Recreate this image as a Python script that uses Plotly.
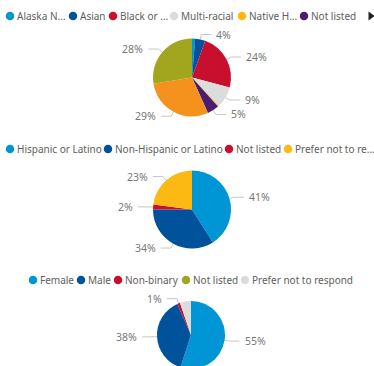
import math
import plotly.graph_objects as go

# Canvas size (the last pie runs past the bottom edge and is cut off)
W, H = 374, 372

# ---- Race ----
race_labels = ["Alaska Native or American Indian", "Asian", "Black or African American",
               "Multi-racial", "Native Hawaiian or Pacific Islander", "Not listed",
               "Prefer not to respond", "White"]
race_legend = ["Alaska N...", "Asian", "Black or ...", "Multi-racial", "Native H...", "Not listed"]
race_values = [1.3, 4.2, 23.6, 8.9, 0.4, 4.9, 29.1, 27.6]
race_show = [False, True, True, True, False, True, True, True]

# ---- Ethnicity ----
eth_labels = ["Hispanic or Latino", "Non-Hispanic or Latino", "Not listed", "Prefer not to respond"]
eth_legend = ["Hispanic or Latino", "Non-Hispanic or Latino", "Not listed", "Prefer not to re..."]
eth_values = [41, 34, 2, 23]
eth_show = [True, True, True, True]

# ---- Gender ----
gender_labels = ["Female", "Male", "Non-binary", "Not listed", "Prefer not to respond"]
gender_legend = ["Female", "Male", "Non-binary", "Not listed", "Prefer not to respond"]
gender_values = [55.0, 38.4, 1.3, 0.0, 5.3]
gender_show = [True, True, True, False, False]

# Colours
LBLUE, DBLUE, RED, GRAY = "#0096D6", "#00539B", "#C8102E", "#DCDCDC"
YELLOW, PURPLE, ORANGE, OLIVE = "#FDB913", "#4C1D6F", "#F5921E", "#A2A51E"
race_colors = [LBLUE, DBLUE, RED, GRAY, YELLOW, PURPLE, ORANGE, OLIVE]
eth_colors = [LBLUE, DBLUE, RED, YELLOW]
gender_colors = [LBLUE, DBLUE, RED, OLIVE, GRAY]

FONT = "Segoe UI, Noto Sans, sans-serif"
LEGEND_TEXT = "#605E5C"
LABEL_TEXT = "#777777"
LEADER = "#C8C6C4"

fig = go.Figure()


def add_pie(labels, values, colors, show, cx, cy, r):
    """Pie centred at pixel (cx, cy) with radius r, plus outside % labels with elbow leaders."""
    fig.add_trace(go.Pie(
        labels=labels, values=values, sort=False, direction="clockwise", rotation=0,
        marker=dict(colors=colors, line=dict(width=0)),
        textinfo="none", showlegend=False, hoverinfo="label+percent",
        domain=dict(x=[(cx - r) / W, (cx + r) / W], y=[1 - (cy + r) / H, 1 - (cy - r) / H]),
    ))
    total = sum(values)
    cum = 0.0
    for v, s in zip(values, show):
        mid = (cum + v / 2) / total * 2 * math.pi
        cum += v
        if not s or v == 0:
            continue
        sx, sy = cx + r * math.sin(mid), cy - r * math.cos(mid)
        ex, ey = cx + (r + 5) * math.sin(mid), cy - (r + 5) * math.cos(mid)
        side = 1 if math.sin(mid) >= 0 else -1
        hx = ex + side * 10
        fig.add_trace(go.Scatter(
            x=[sx, ex, hx], y=[sy, ey, ey], mode="lines",
            line=dict(color=LEADER, width=1), hoverinfo="skip", showlegend=False,
        ))
        fig.add_annotation(
            x=hx + side * 3, y=ey, xref="x", yref="y", showarrow=False,
            text=f"{round(v / total * 100)}%",
            xanchor="left" if side > 0 else "right", yanchor="middle",
            font=dict(family=FONT, size=10.5, color=LABEL_TEXT),
        )


def add_legend(names, colors, xs, y):
    """Row of round swatches with text to the right."""
    fig.add_trace(go.Scatter(
        x=xs, y=[y] * len(xs), mode="markers",
        marker=dict(symbol="circle", size=8.5, color=colors[:len(xs)], line=dict(width=0)),
        hoverinfo="skip", showlegend=False,
    ))
    for name, x in zip(names, xs):
        fig.add_annotation(
            x=x + 5, y=y, xref="x", yref="y", showarrow=False, text=name,
            xanchor="left", yanchor="middle",
            font=dict(family=FONT, size=10, color=LEGEND_TEXT),
        )


# Legends (swatch centres in pixels)
add_legend(race_legend, race_colors, [10, 73, 113, 174, 242, 304], 16)
add_legend(eth_legend, eth_colors, [10, 108, 229, 288], 149)
add_legend(gender_legend, gender_colors, [33, 81, 118, 186, 245], 280)

# "more items" arrow at the end of the first legend row
fig.add_trace(go.Scatter(
    x=[370.5], y=[16], mode="markers",
    marker=dict(symbol="triangle-right", size=8, color="#252423"),
    hoverinfo="skip", showlegend=False,
))

add_pie(race_labels, race_values, race_colors, race_show, 192, 77.5, 39)
add_pie(eth_labels, eth_values, eth_colors, eth_show, 192, 209.5, 39)
add_pie(gender_labels, gender_values, gender_colors, gender_show, 191, 335, 34)

fig.update_layout(
    width=W, height=H,
    margin=dict(l=0, r=0, t=0, b=0),
    paper_bgcolor="white", plot_bgcolor="white",
    xaxis=dict(range=[0, W], visible=False, fixedrange=True, domain=[0, 1]),
    yaxis=dict(range=[H, 0], visible=False, fixedrange=True, domain=[0, 1]),
    showlegend=False,
)

fig.write_html(
    "out.html",
    config={"displayModeBar": False},
    post_script="document.documentElement.style.overflow='hidden';"
                "document.body.style.overflow='hidden';document.body.style.margin='0';",
)
